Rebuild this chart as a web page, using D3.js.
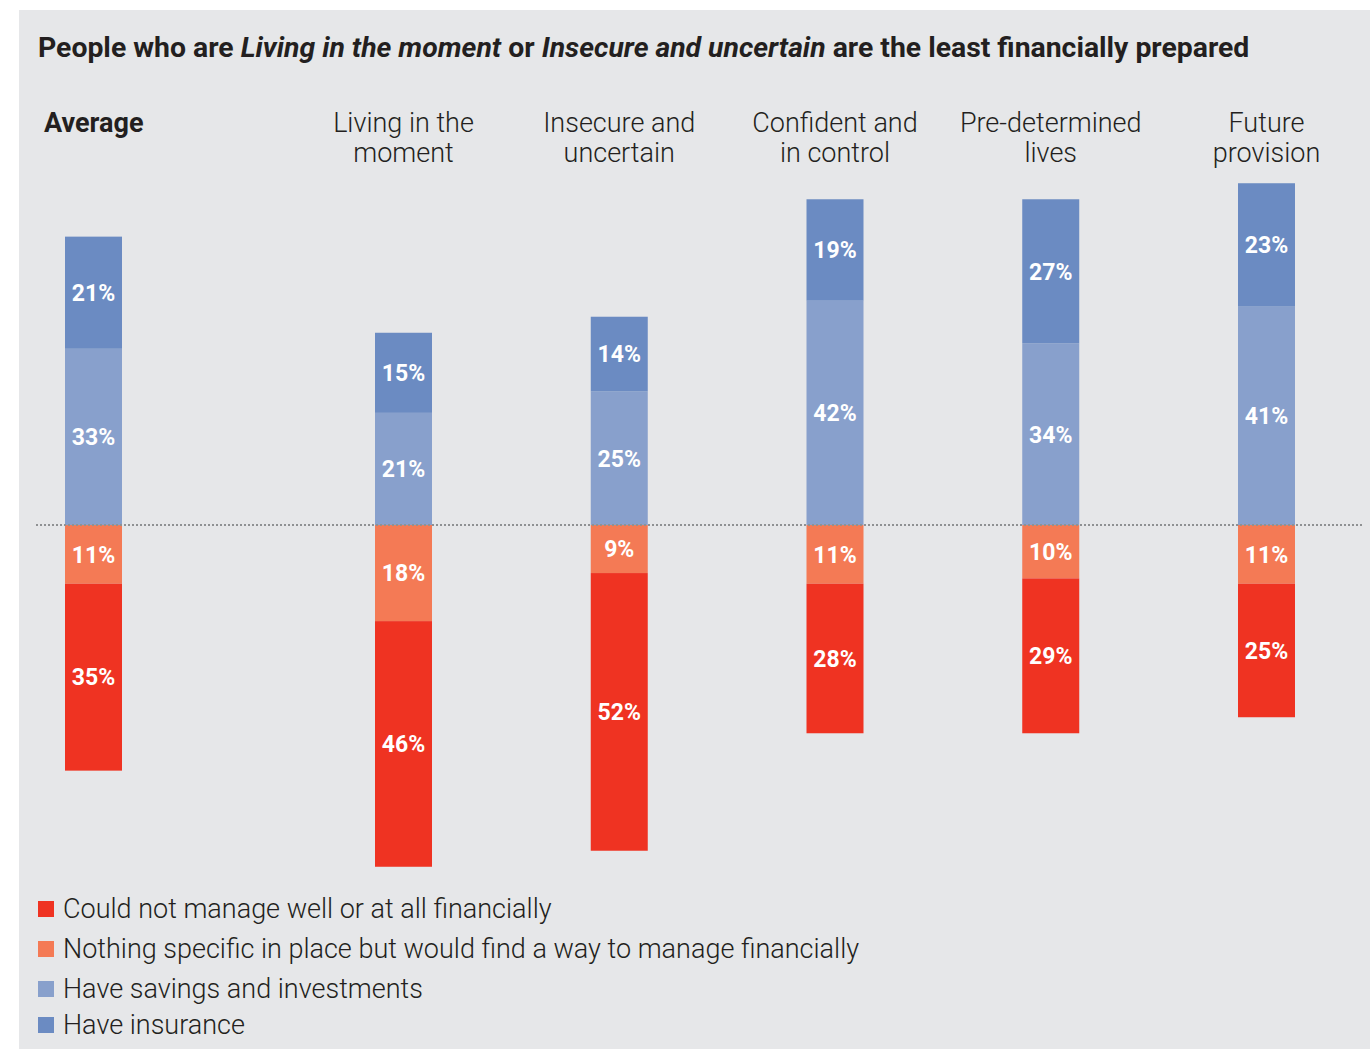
<!DOCTYPE html>
<html>
<head>
<meta charset="utf-8">
<script src="https://cdn.jsdelivr.net/npm/d3@7/dist/d3.min.js"></script>
<style>
  html, body { margin: 0; padding: 0; background: #ffffff; }
  svg { display: block; }
</style>
</head>
<body>
<svg id="chart" width="1370" height="1050"></svg>
<script>
// ---- Data ----
const categories = ["Average", "Living in the moment", "Insecure and uncertain", "Confident and in control", "Pre-determined lives", "Future provision"];
const categoryLines = [["Average"], ["Living in the", "moment"], ["Insecure and", "uncertain"], ["Confident and", "in control"], ["Pre-determined", "lives"], ["Future", "provision"]];
const haveInsurance = [21, 15, 14, 19, 27, 23];
const haveSavings = [33, 21, 25, 42, 34, 41];
const nothingSpecific = [11, 18, 9, 11, 10, 11];
const couldNotManage = [35, 46, 52, 28, 29, 25];
const seriesNames = ["Could not manage well or at all financially", "Nothing specific in place but would find a way to manage financially", "Have savings and investments", "Have insurance"];
const seriesColors = ["#ef3322", "#f47a55", "#88a0cc", "#6b8bc2"];
const titleParts = [
  {t: "People who are ", i: false},
  {t: "Living in the moment", i: true},
  {t: " or ", i: false},
  {t: "Insecure and uncertain", i: true},
  {t: " are the least financially prepared", i: false}
];

// ---- Layout ----
const svg = d3.select("#chart");
const FONT = "Roboto, 'Liberation Sans', sans-serif";
const TXT = "#231f20";

svg.append("rect").attr("x", 19).attr("y", 10).attr("width", 1351).attr("height", 1039).attr("fill", "#e6e7e9");

// Title
const title = svg.append("text").attr("x", 38).attr("y", 57)
  .attr("font-family", FONT).attr("font-weight", 700).attr("font-size", 24).attr("fill", TXT);
titleParts.forEach(p => title.append("tspan").text(p.t).attr("font-style", p.i ? "italic" : "normal"));
(function fit() {
  const w = title.node().getComputedTextLength();
  const target = 1212;
  title.attr("font-size", 24 * target / w);
})();

// Scales
const y = d3.scaleLinear().domain([0, 60]).range([525, 525 - 60 * 5.34]);
const xSeg = d3.scalePoint().domain(categories.slice(1)).range([403.5, 1266.5]);
const avgX = 93.5;
const xc = c => c === "Average" ? avgX : xSeg(c);
const barW = 57;

// Build stacks
const bars = [];
categories.forEach((c, i) => {
  const cx = xc(c);
  bars.push({c, cx, y0: 0, y1: haveSavings[i], v: haveSavings[i], color: seriesColors[2]});
  bars.push({c, cx, y0: haveSavings[i], y1: haveSavings[i] + haveInsurance[i], v: haveInsurance[i], color: seriesColors[3]});
  bars.push({c, cx, y0: 0, y1: -nothingSpecific[i], v: nothingSpecific[i], color: seriesColors[1]});
  bars.push({c, cx, y0: -nothingSpecific[i], y1: -nothingSpecific[i] - couldNotManage[i], v: couldNotManage[i], color: seriesColors[0]});
});

const g = svg.append("g");
g.selectAll("rect.seg").data(bars).join("rect").attr("class", "seg")
  .attr("x", d => d.cx - barW / 2)
  .attr("width", barW)
  .attr("y", d => Math.min(y(d.y0), y(d.y1)))
  .attr("height", d => Math.abs(y(d.y0) - y(d.y1)))
  .attr("fill", d => d.color);

// Zero dotted line
svg.append("line").attr("x1", 36).attr("x2", 1362).attr("y1", y(0)).attr("y2", y(0))
  .attr("stroke", "#8f9193").attr("stroke-width", 2).attr("stroke-dasharray", "2 2");

// Value labels
g.selectAll("text.val").data(bars).join("text").attr("class", "val")
  .attr("x", d => d.cx)
  .attr("y", d => (y(d.y0) + y(d.y1)) / 2)
  .attr("dy", "0.36em")
  .attr("text-anchor", "middle")
  .attr("font-family", FONT).attr("font-weight", 700).attr("font-size", 23)
  .attr("fill", "#ffffff")
  .text(d => d.v + "%");

// Category headers
categories.forEach((c, i) => {
  const isAvg = c === "Average";
  const t = svg.append("text")
    .attr("x", isAvg ? 44 : xc(c))
    .attr("y", 132)
    .attr("text-anchor", isAvg ? "start" : "middle")
    .attr("font-family", FONT)
    .attr("font-weight", isAvg ? 700 : 300)
    .attr("font-size", isAvg ? 27 : 27)
    .attr("fill", TXT);
  categoryLines[i].forEach((line, k) => {
    t.append("tspan").attr("x", isAvg ? 44 : xc(c)).attr("dy", k === 0 ? 0 : 30).text(line);
  });
});

// Legend
const legendY = [909, 949, 989, 1025];
const lg = svg.append("g");
seriesNames.forEach((n, i) => {
  lg.append("rect").attr("x", 38).attr("y", legendY[i] - 8).attr("width", 16).attr("height", 16).attr("fill", seriesColors[i]);
  lg.append("text").attr("x", 63).attr("y", legendY[i]).attr("dy", "0.35em")
    .attr("font-family", FONT).attr("font-weight", 300).attr("font-size", 27).attr("fill", TXT)
    .text(n);
});
</script>
</body>
</html>
